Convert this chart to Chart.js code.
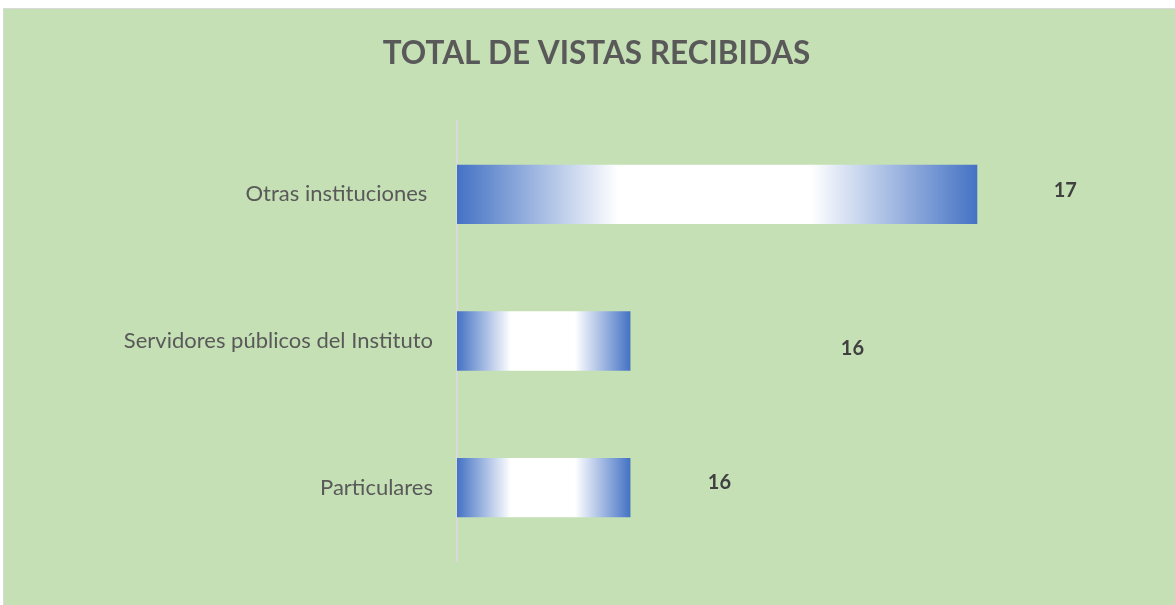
<!DOCTYPE html>
<html>
<head>
<meta charset="utf-8">
<script src="https://cdn.jsdelivr.net/npm/chart.js@4"></script>
<style>
  html, body { margin: 0; padding: 0; background: #ffffff; }
  #box {
    position: absolute; left: 3px; top: 8px;
    width: 1171px; height: 597px;
    background: #C5E0B4;
    border-left: 1px solid #D9D9D9;
    border-top: 1px solid #D9D9D9;
  }
</style>
</head>
<body>
<div id="box"><canvas id="vistas-chart" width="1171" height="596"></canvas></div>
<script>
// data
let categories = ["Otras instituciones ", "Servidores públicos del Instituto", "Particulares"];
let vistas = [17, 16, 16];
// data labels were moved by hand in the original, offset from the bar end
let label_dx = [88, 222, 89];
let label_dy = [-4, 8, -5];

const blue = '#4472C4';

// horizontal gradient blue -> white -> blue across each bar
function barGradient(context) {
  const chart = context.chart;
  if (!chart.chartArea) return blue;
  const xs = chart.scales.x;
  const x0 = xs.getPixelForValue(xs.min);
  const x1 = xs.getPixelForValue(context.raw);
  const g = chart.ctx.createLinearGradient(x0, 0, x1, 0);
  g.addColorStop(0, blue);
  g.addColorStop(0.31, '#ffffff');
  g.addColorStop(0.68, '#ffffff');
  g.addColorStop(1, blue);
  return g;
}

const valueLabels = {
  id: 'valueLabels',
  afterDatasetsDraw(chart) {
    const ctx = chart.ctx;
    const meta = chart.getDatasetMeta(0);
    ctx.save();
    ctx.font = 'bold 20px Lato';
    ctx.fillStyle = '#404040';
    ctx.textAlign = 'center';
    ctx.textBaseline = 'middle';
    meta.data.forEach((bar, i) => {
      ctx.fillText(vistas[i], bar.x + label_dx[i], bar.y + label_dy[i]);
    });
    ctx.restore();
  }
};

const ctx = document.getElementById('vistas-chart').getContext('2d');
let chart = new Chart(ctx, {
  type: 'bar',
  data: {
    labels: categories,
    datasets: [{
      data: vistas,
      backgroundColor: barGradient,
      borderWidth: 0,
      barPercentage: 0.405,
      categoryPercentage: 1
    }]
  },
  options: {
    indexAxis: 'y',
    responsive: false,
    animation: false,
    layout: { padding: { left: 14, right: 0, top: 0, bottom: 44 } },
    plugins: {
      legend: { display: false },
      tooltip: { enabled: false },
      title: {
        display: true,
        text: 'TOTAL DE VISTAS RECIBIDAS',
        color: '#595959',
        font: { family: 'Lato', size: 31.5, weight: 'bold', lineHeight: 1.2 },
        padding: { top: 25.5, bottom: 48.7 }
      }
    },
    scales: {
      x: {
        display: false,
        min: 15.5,
        max: 17.57
      },
      y: {
        afterFit(scale) { scale.width = 439; },
        grid: { drawOnChartArea: false, drawTicks: false },
        border: { color: '#D9D9D9', width: 2 },
        ticks: {
          color: '#595959',
          padding: 24,
          font: { family: 'Lato', size: 22 }
        }
      }
    }
  },
  plugins: [valueLabels]
});
</script>
</body>
</html>
